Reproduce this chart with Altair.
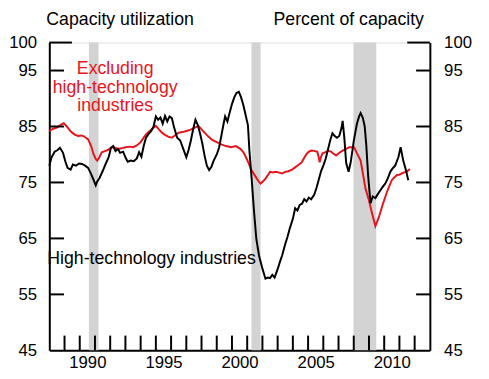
import altair as alt
import pandas as pd

# ---- data ----
hi_year = [1988.00, 1988.15, 1988.35, 1988.55, 1988.70, 1988.90, 1989.05, 1989.20, 1989.40, 1989.55,
           1989.75, 1989.95, 1990.15, 1990.35, 1990.55, 1990.75, 1990.90, 1991.05, 1991.15, 1991.30,
           1991.50, 1991.70, 1991.90, 1992.05, 1992.20, 1992.35, 1992.50, 1992.65, 1992.85, 1993.00,
           1993.15, 1993.35, 1993.55, 1993.75, 1993.90, 1994.05, 1994.20, 1994.35, 1994.50, 1994.70,
           1994.85, 1995.00, 1995.15, 1995.30, 1995.45, 1995.60, 1995.75, 1995.90, 1996.05, 1996.20,
           1996.40, 1996.60, 1996.80, 1997.00, 1997.15, 1997.30, 1997.45, 1997.60, 1997.75, 1997.90,
           1998.05, 1998.20, 1998.35, 1998.50, 1998.65, 1998.80, 1999.00, 1999.15, 1999.30, 1999.45,
           1999.55, 1999.70, 1999.85, 2000.00, 2000.15, 2000.30, 2000.45, 2000.60, 2000.75, 2000.90,
           2001.05, 2001.15, 2001.30, 2001.45, 2001.60, 2001.78, 2002.00, 2002.20, 2002.35, 2002.50,
           2002.65, 2002.80, 2003.00, 2003.15, 2003.30, 2003.50, 2003.65, 2003.80, 2004.00, 2004.15,
           2004.30, 2004.45, 2004.60, 2004.75, 2004.90, 2005.05, 2005.20, 2005.40, 2005.55, 2005.70,
           2005.85, 2006.00, 2006.15, 2006.30, 2006.45, 2006.60, 2006.75, 2006.90, 2007.05, 2007.20,
           2007.27, 2007.38, 2007.50, 2007.66, 2007.80, 2008.00, 2008.20, 2008.35, 2008.45, 2008.60,
           2008.72, 2008.82, 2008.95, 2009.10, 2009.25, 2009.42, 2009.60, 2009.75, 2009.90, 2010.07,
           2010.25, 2010.40, 2010.55, 2010.72, 2010.93, 2011.08, 2011.25, 2011.43, 2011.58]
hi_val = [78.0, 79.5, 80.5, 80.8, 81.2, 80.3, 78.8, 77.6, 77.3, 78.2,
          78.0, 78.4, 78.3, 78.0, 77.6, 76.5, 75.5, 74.5, 75.2, 75.8,
          77.0, 78.3, 79.5, 81.2, 81.5, 80.6, 81.0, 80.3, 80.5, 79.5,
          78.7, 78.9, 78.8, 79.3, 80.4, 79.6, 81.5, 83.0, 83.6, 84.2,
          85.0, 86.8, 86.2, 86.6, 85.5, 86.9, 85.9, 86.8, 86.5, 84.8,
          83.0, 82.5, 81.0, 79.5, 80.8, 82.5, 84.5, 86.2, 85.3, 83.8,
          82.0, 79.8, 78.0, 77.2, 77.8, 78.9, 80.0, 81.2, 83.3, 85.5,
          86.8, 85.9, 87.5, 89.0, 90.2, 91.0, 91.2, 90.2, 88.8, 87.0,
          85.2, 80.5, 75.4, 69.8, 64.9, 61.9, 59.6, 57.8, 58.0, 57.9,
          58.5, 58.0, 59.5, 60.8, 62.0, 64.0, 65.3, 66.8, 68.5, 70.4,
          70.0, 71.0, 71.2, 72.0, 71.6, 72.3, 72.0, 72.8, 74.0, 75.5,
          77.0, 78.0, 79.2, 80.8, 82.5, 83.8, 83.3, 83.0, 83.3, 84.8,
          86.0, 83.0, 78.5, 76.9, 78.6, 82.4, 85.4, 86.8, 87.4, 86.5,
          85.0, 81.8, 76.0, 71.3, 72.5, 72.2, 73.0, 73.6, 74.2, 74.8,
          75.8, 76.9, 77.5, 78.0, 79.5, 81.3, 78.9, 77.2, 75.4]

ex_year = [1988.00, 1988.25, 1988.50, 1988.75, 1988.95, 1989.15, 1989.35, 1989.50, 1989.70, 1989.90,
           1990.10, 1990.30, 1990.55, 1990.75, 1990.90, 1991.05, 1991.15, 1991.30, 1991.45, 1991.65,
           1991.85, 1992.05, 1992.25, 1992.50, 1992.75, 1993.00, 1993.25, 1993.50, 1993.75, 1994.00,
           1994.20, 1994.40, 1994.60, 1994.80, 1995.00, 1995.20, 1995.40, 1995.60, 1995.80, 1996.05,
           1996.25, 1996.50, 1996.75, 1997.00, 1997.25, 1997.50, 1997.80, 1998.00, 1998.20, 1998.45,
           1998.70, 1999.00, 1999.30, 1999.60, 1999.95, 2000.25, 2000.55, 2000.75, 2000.92, 2001.10,
           2001.24, 2001.40, 2001.56, 2001.72, 2001.88, 2002.05, 2002.20, 2002.35, 2002.50, 2002.70,
           2002.86, 2003.05, 2003.29, 2003.50, 2003.70, 2003.95, 2004.15, 2004.40, 2004.58, 2004.75,
           2004.90, 2005.05, 2005.23, 2005.45, 2005.60, 2005.70, 2005.76, 2005.85, 2005.95, 2006.15,
           2006.30, 2006.50, 2006.70, 2006.84, 2007.05, 2007.27, 2007.50, 2007.70, 2008.02, 2008.23,
           2008.45, 2008.62, 2008.77, 2008.99, 2009.20, 2009.42, 2009.64, 2009.86, 2010.02, 2010.18,
           2010.34, 2010.50, 2010.66, 2010.82, 2011.00, 2011.15, 2011.31, 2011.47, 2011.69]
ex_val = [84.2, 84.6, 84.8, 85.3, 85.6, 85.0, 84.3, 83.9, 83.5, 83.3,
          83.4, 83.2, 82.7, 81.5, 80.1, 79.2, 78.9, 79.6, 80.4, 80.6,
          80.8, 81.2, 81.3, 81.0, 81.1, 81.3, 81.4, 81.3, 81.6, 82.2,
          83.0, 83.7, 84.2, 84.7, 85.1, 84.5, 83.9, 83.5, 83.2, 83.0,
          83.4, 83.9, 84.0, 84.2, 84.4, 84.7, 85.1, 84.5, 83.9, 83.2,
          82.6, 82.2, 81.8, 81.5, 81.3, 81.5, 81.0, 80.4, 79.5, 78.4,
          77.4, 76.7, 76.0, 75.3, 74.8, 75.2, 75.7, 76.3, 76.9, 76.8,
          76.9, 76.8, 76.6, 76.9, 77.0, 77.3, 77.7, 78.2, 78.6, 79.4,
          80.1, 80.5, 80.7, 80.6, 80.5, 79.5, 78.6, 79.6, 80.2, 80.4,
          80.7, 80.5, 80.1, 79.8, 80.3, 80.7, 81.0, 81.3, 81.3, 80.1,
          78.9, 76.3, 73.9, 71.9, 69.5, 67.2, 68.7, 70.7, 72.0, 73.3,
          74.4, 75.4, 75.9, 76.3, 76.4, 76.6, 76.8, 76.9, 77.4]

rec_start = [1990.60, 2001.28, 2007.98]
rec_end = [1991.23, 2001.88, 2009.48]

y_labels = [45, 55, 65, 75, 85, 95, 100]
y_ticks = [55, 65, 75, 85, 95]
y_top = [100]
x_ticks = list(range(1989, 2013))
x_label_years = [1990, 1995, 2000, 2005, 2010]

# ---- layout ----
W, H = 387, 313
FONT = "Liberation Sans"
RED = "#e8141c"

hi = pd.DataFrame({"year": hi_year, "v": hi_val})
ex = pd.DataFrame({"year": ex_year, "v": ex_val})
rec = pd.DataFrame({"year": rec_start, "year2": rec_end})
ytk = pd.DataFrame({"v": y_ticks})
ytop = pd.DataFrame({"v": y_top})
xtk = pd.DataFrame({"year": x_ticks})

xscale = alt.Scale(domain=[1988, 2013], nice=False, zero=False)
yscale = alt.Scale(domain=[45, 100], nice=False, zero=False)
xaxis = alt.Axis(values=[y + 0.5 for y in x_label_years], labelExpr="floor(datum.value)",
                 ticks=False, tickSize=0, grid=False, domain=True, domainColor="black",
                 domainWidth=2, labelFontSize=17, labelFont=FONT, labelColor="black",
                 labelPadding=4, labelFlush=False, title=None)
X = alt.X("year:Q", scale=xscale, axis=xaxis)

shade = alt.Chart(rec).mark_rect(color="#d3d3d3").encode(
    x=X, x2="year2:Q", y=alt.value(0), y2=alt.value(H))

red_line = alt.Chart(ex).mark_line(color=RED, strokeWidth=2).encode(
    x=X, y=alt.Y("v:Q", scale=yscale, axis=None))
black_line = alt.Chart(hi).mark_line(color="black", strokeWidth=2).encode(
    x=X, y=alt.Y("v:Q", scale=yscale, axis=None))

left_axis = alt.Axis(orient="left", values=y_labels, ticks=False, tickSize=0, grid=False,
                     domain=True, domainColor="black", domainWidth=2, labelFontSize=17,
                     labelFont=FONT, labelColor="black", labelPadding=13, title=None)
right_axis = alt.Axis(orient="right", values=y_labels, ticks=False, tickSize=0, grid=False,
                      domain=True, domainColor="black", domainWidth=2, labelFontSize=17,
                      labelFont=FONT, labelColor="black", labelPadding=14, title=None)

lt = alt.Chart(ytk).mark_rule(color="black", strokeWidth=2).encode(
    y=alt.Y("v:Q", scale=yscale, axis=left_axis), x=alt.value(0), x2=alt.value(15))
lt100 = alt.Chart(ytop).mark_rule(color="black", strokeWidth=2).encode(
    y=alt.Y("v:Q", scale=yscale, axis=None), x=alt.value(0), x2=alt.value(23))
rt = alt.Chart(ytk).mark_rule(color="black", strokeWidth=2).encode(
    y=alt.Y("v:Q", scale=yscale, axis=right_axis), x=alt.value(W - 14), x2=alt.value(W))
rt100 = alt.Chart(ytop).mark_rule(color="black", strokeWidth=2).encode(
    y=alt.Y("v:Q", scale=yscale, axis=None), x=alt.value(W - 23), x2=alt.value(W))
xt = alt.Chart(xtk).mark_rule(color="black", strokeWidth=2).encode(
    x=X, y=alt.value(H - 15), y2=alt.value(H))

def label(text, x, y, align, color="black"):
    return alt.Chart(pd.DataFrame({"t": [text]})).mark_text(
        align=align, baseline="alphabetic", fontSize=18, font=FONT, color=color
    ).encode(text="t:N", x=alt.value(x), y=alt.value(y))

t1 = label("Capacity utilization", -3, -18, "left")
t2 = label("Percent of capacity", 381, -18, "right")
r1 = label("Excluding", 67, 31.5, "center", RED)
r2 = label("high-technology", 67, 51, "center", RED)
r3 = label("industries", 67, 70, "center", RED)
b1 = label("High-technology industries", -2, 225, "left")

chart = alt.layer(
    shade, red_line, black_line, lt, lt100, rt, rt100, xt, t1, t2, r1, r2, r3, b1
).resolve_axis(y="independent").properties(
    width=W, height=H,
    autosize=alt.AutoSizeParams(type="none"),
    padding={"left": 42, "top": 32, "right": 52, "bottom": 26},
).configure_view(stroke=None).configure(background="white")

chart.save("out.html", embed_options={"renderer": "svg", "actions": False})
